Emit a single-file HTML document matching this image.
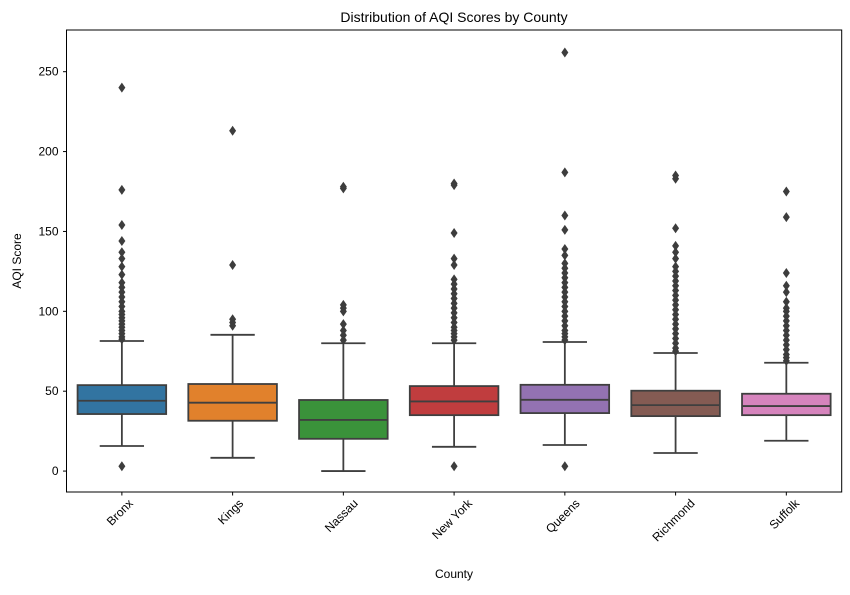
<!DOCTYPE html>
<html><head><meta charset="utf-8"><style>
body{margin:0;background:#fff;}
svg text{font-family:"Liberation Sans",sans-serif;fill:#000;}
</style></head><body>
<svg id="chart" width="850" height="590" xmlns="http://www.w3.org/2000/svg">
<rect width="850" height="590" fill="#fff"/>
<text x="454" y="22" font-size="14" text-anchor="middle">Distribution of AQI Scores by County</text>
<text x="454" y="578" font-size="12" text-anchor="middle">County</text>
<text transform="translate(21,261) rotate(-90)" font-size="12" text-anchor="middle">AQI Score</text>
<g id="plot"></g>
</svg>
<script>
const counties=["Bronx","Kings","Nassau","New York","Queens","Richmond","Suffolk"];
const colors=["#3274a1","#e1812c","#3a923a","#c03d3e","#9372b2","#845b53","#d684bd"];
const q1=[35.7,31.5,20.2,35,36.3,34.4,35];
const medians=[44,42.8,32,43.6,44.6,41.3,40.7];
const q3=[53.8,54.5,44.5,53.2,54,50.3,48.4];
const whiskerLow=[15.7,8.3,0,15.2,16.3,11.3,19];
const whiskerHigh=[81.4,85.3,80,80,80.8,73.9,67.8];
const outliers=[
 [240,176,154,144,137,133,128,123,118,115,112,109,106,103,100,98,96,94,92,90,88,86,84,82.5,3],
 [213,129,95,93,91],
 [178,177,104,102,100,92,88,85,82],
 [180,179,149,133,129,120,117,114,111,108,105,102,99,96,93,90,88,86,84,82,3],
 [262,187,160,151,139,135,130,127,124,121,118,115,112,109,106,103,100,97,94,91,88,86,84,82,3],
 [185,183,152,141,137,133,128,125,122,119,116,113,110,107,104,101,98,95,92,89,86,83,80,77,75],
 [175,159,124,116,112,106,102,100,97,94,91,88,85,82,79,76,73,71,69]
];
const yTicks=[0,50,100,150,200,250];
const L=66.5,R=841.7,T=30,B=492,yMin=-13.1,yMax=276.1;
const X=i=>L+(i+0.5)*(R-L)/counties.length;
const Y=v=>B-(v-yMin)/(yMax-yMin)*(B-T);
const bw=(R-L)/counties.length;
const NS="http://www.w3.org/2000/svg";
const g=document.getElementById('plot');
function mk(tag,at,parent){const e=document.createElementNS(NS,tag);for(const k in at)e.setAttribute(k,at[k]);(parent||g).appendChild(e);return e;}
const axes=mk('rect',{x:L,y:T,width:R-L,height:B-T,fill:'none',stroke:'#000','stroke-width':1});


yTicks.forEach(v=>{
 const t=mk('line',{x1:L-3.5,x2:L,y1:Y(v),y2:Y(v),stroke:'#000'});
 
 
 const tx=mk('text',{x:L-8,y:Y(v)+4,'font-size':12,'text-anchor':'end'});tx.textContent=v;
 
 
});
const lc='#3f3f3f',lw=1.8;
counties.forEach((c,i)=>{
 const cx=X(i);
 const grp=mk('g',{});
 
 
 mk('line',{x1:cx,x2:cx,y1:Y(q3[i]),y2:Y(whiskerHigh[i]),stroke:lc,'stroke-width':lw},grp);
 mk('line',{x1:cx,x2:cx,y1:Y(q1[i]),y2:Y(whiskerLow[i]),stroke:lc,'stroke-width':lw},grp);
 mk('line',{x1:cx-bw*0.2,x2:cx+bw*0.2,y1:Y(whiskerHigh[i]),y2:Y(whiskerHigh[i]),stroke:lc,'stroke-width':lw},grp);
 mk('line',{x1:cx-bw*0.2,x2:cx+bw*0.2,y1:Y(whiskerLow[i]),y2:Y(whiskerLow[i]),stroke:lc,'stroke-width':lw},grp);
 mk('rect',{x:cx-bw*0.4,y:Y(q3[i]),width:bw*0.8,height:Y(q1[i])-Y(q3[i]),fill:colors[i],stroke:lc,'stroke-width':lw},grp);
 mk('line',{x1:cx-bw*0.4,x2:cx+bw*0.4,y1:Y(medians[i]),y2:Y(medians[i]),stroke:lc,'stroke-width':lw},grp);
 outliers[i].forEach(v=>{
  const y=Y(v);
  const p=mk('polygon',{points:`${cx},${y-5} ${cx+3.5},${y} ${cx},${y+5} ${cx-3.5},${y}`,fill:'#3d3d3d'},grp);
  
  
 });
 const t=mk('line',{x1:cx,x2:cx,y1:B,y2:B+3.5,stroke:'#000'});
 
 
 const tx=mk('text',{'font-size':12,'text-anchor':'middle',y:4});
 tx.textContent=c;
 
 
 const len=tx.getComputedTextLength();
 const h=(len+12)*0.7071;
 tx.setAttribute('transform',`translate(${cx-2},${B+5+h/2}) rotate(-45)`);
});
</script>
</body></html>
